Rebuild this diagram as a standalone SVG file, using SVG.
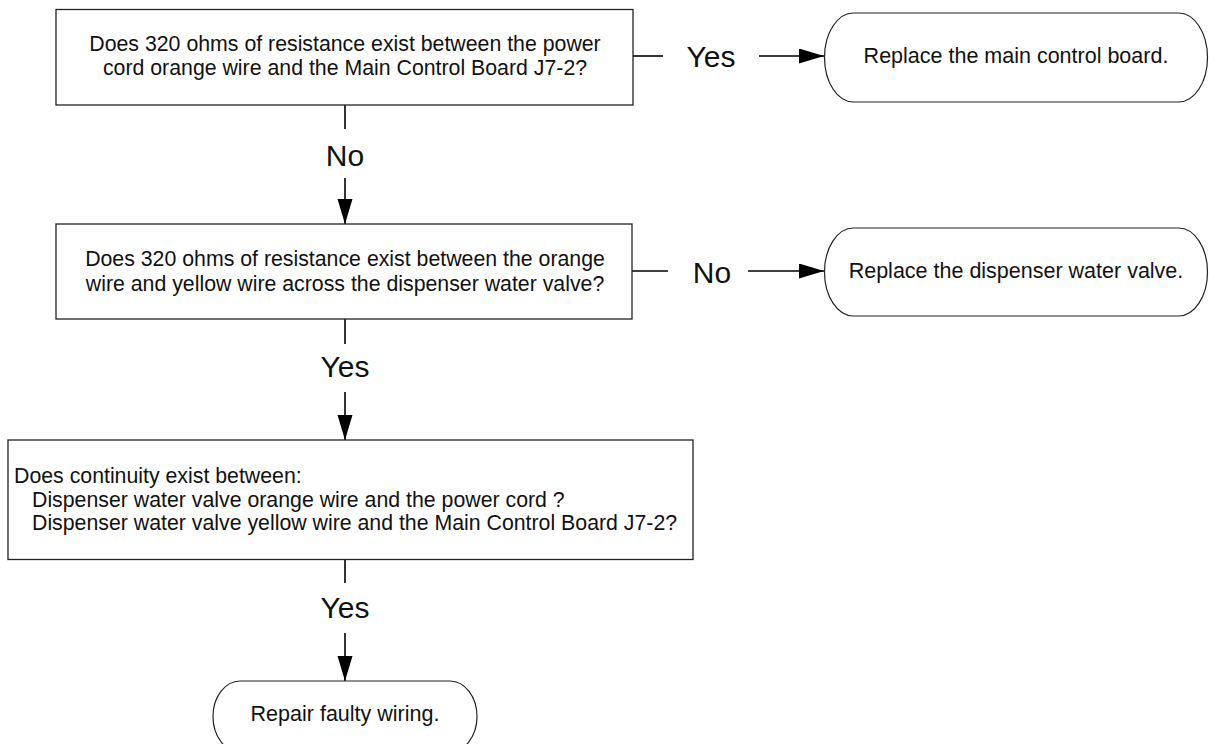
<svg xmlns="http://www.w3.org/2000/svg" width="1209" height="744" viewBox="0 0 1209 744">
<style>
.box{fill:#fff;stroke:#222;stroke-width:1.3}
.term{fill:#fff;stroke:#222;stroke-width:1.2}
.t{font-family:"Liberation Sans",Arial,sans-serif;font-size:21.3px;fill:#111}
.tt{font-size:21.5px}
.c{text-anchor:middle}
.lbl{font-family:"Liberation Sans",Arial,sans-serif;font-size:30px;fill:#111;text-anchor:middle}
.ln{stroke:#000;stroke-width:1.6;fill:none}
</style>
<defs>
<marker id="ah" markerUnits="userSpaceOnUse" markerWidth="26" markerHeight="16" refX="25" refY="7.5" orient="auto">
<path d="M0,0 L25,7.5 L0,15 Z" fill="#000"/>
</marker>
</defs>
<rect width="1209" height="744" fill="#fff"/>
<g id="connectors">
<line class="ln" x1="633" y1="56" x2="663" y2="56"/>
<line class="ln" x1="759" y1="56" x2="824" y2="56" marker-end="url(#ah)"/>
<line class="ln" x1="345" y1="105" x2="345" y2="129"/>
<line class="ln" x1="345" y1="178" x2="345" y2="224" marker-end="url(#ah)"/>
<line class="ln" x1="632" y1="271" x2="668" y2="271"/>
<line class="ln" x1="748" y1="271" x2="824" y2="271" marker-end="url(#ah)"/>
<line class="ln" x1="345" y1="319" x2="345" y2="344"/>
<line class="ln" x1="345" y1="392" x2="345" y2="440" marker-end="url(#ah)"/>
<line class="ln" x1="345" y1="560" x2="345" y2="583"/>
<line class="ln" x1="345" y1="633" x2="345" y2="681" marker-end="url(#ah)"/>
<text class="lbl" x="711" y="67">Yes</text>
<text class="lbl" x="345" y="166">No</text>
<text class="lbl" x="712" y="283">No</text>
<text class="lbl" x="345" y="377">Yes</text>
<text class="lbl" x="345" y="618">Yes</text>
</g>
<g id="q1">
<rect class="box" x="56" y="9.5" width="577" height="95.5"/>
<text class="t c" x="345" y="51">Does 320 ohms of resistance exist between the power</text>
<text class="t c" x="345" y="75">cord orange wire and the Main Control Board J7-2?</text>
</g>
<g id="r1">
<rect class="term" x="824.5" y="13" width="383" height="89" rx="29" ry="44.5"/>
<text class="t tt c" x="1016" y="63">Replace the main control board.</text>
</g>
<g id="q2">
<rect class="box" x="56" y="224" width="576" height="95"/>
<text class="t c" x="345" y="266">Does 320 ohms of resistance exist between the orange</text>
<text class="t c" x="345" y="291">wire and yellow wire across the dispenser water valve?</text>
</g>
<g id="r2">
<rect class="term" x="824.5" y="228" width="383" height="88" rx="29" ry="44"/>
<text class="t tt c" x="1016" y="278">Replace the dispenser water valve.</text>
</g>
<g id="q3">
<rect class="box" x="8" y="440" width="685" height="119.5"/>
<text class="t" x="14" y="483">Does continuity exist between:</text>
<text class="t" x="32" y="507">Dispenser water valve orange wire and the power cord ?</text>
<text class="t" x="32" y="530">Dispenser water valve yellow wire and the Main Control Board J7-2?</text>
</g>
<g id="r3">
<rect class="term" x="213" y="681" width="264" height="71" rx="27" ry="35.5"/>
<text class="t tt c" x="345" y="721">Repair faulty wiring.</text>
</g>
</svg>
